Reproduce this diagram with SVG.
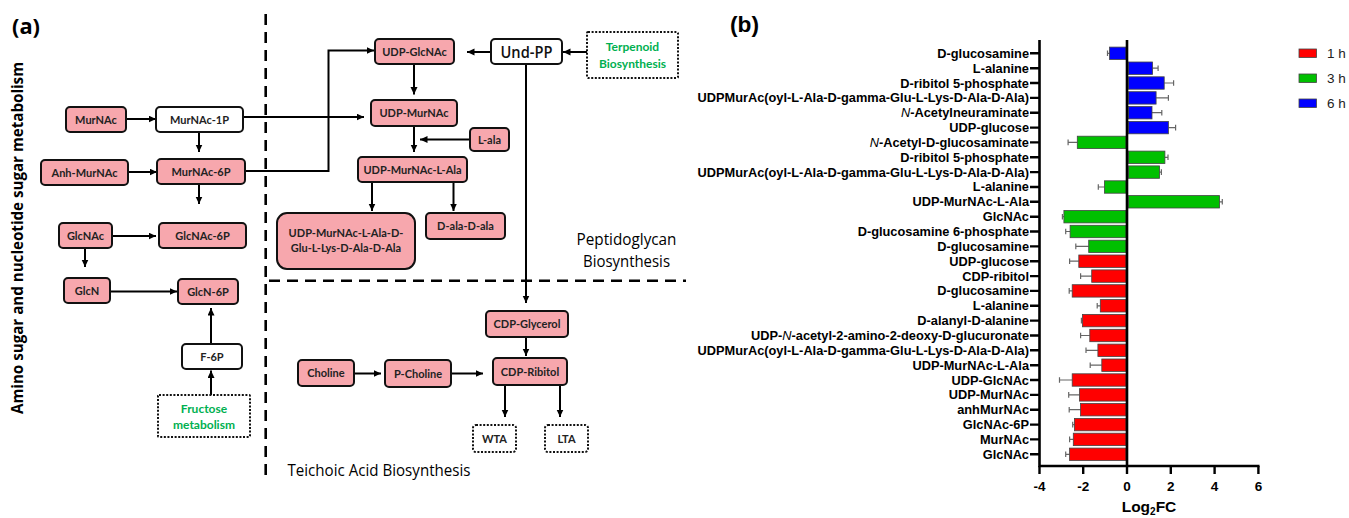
<svg xmlns="http://www.w3.org/2000/svg" width="1349" height="518" viewBox="0 0 1349 518">
<defs>
<marker id="ah" markerUnits="userSpaceOnUse" markerWidth="8" markerHeight="8" refX="7.5" refY="3.5" orient="auto">
<path d="M0,0 L7.5,3.5 L0,7 z" fill="#000"/>
</marker>
<style>
.bg{fill:#fff}
.n rect{fill:#F7A7AD;stroke:#111;stroke-width:2}
.n.w rect{fill:#fff}
.n.d rect{fill:#fff;stroke-dasharray:2 1.6}
.n text{font-family:Lato,"Liberation Sans",sans-serif;font-weight:bold;font-size:11px;fill:#222;text-anchor:middle}
.n .g{fill:#00B050;font-size:12px}
.c path{fill:none;stroke:#000;stroke-width:2}
.c .a{marker-end:url(#ah)}
.sep{fill:none;stroke:#000;stroke-width:2.6;stroke-dasharray:11 7}
.ttl{font-family:"Open Sans",Lato,"Liberation Sans",sans-serif;font-size:17px;font-weight:500;fill:#000}
.pl{font-family:"Open Sans",Lato,"Liberation Sans",sans-serif;font-weight:bold;font-size:22px;fill:#000}
.lb{font-family:"Liberation Sans",Arial,sans-serif;font-weight:bold;font-size:12.8px;fill:#000;text-anchor:end}
.lb .i{font-style:italic;font-weight:normal}
.ax{stroke:#000;stroke-width:2.6;fill:none}
.tk{stroke:#000;stroke-width:2.4}
.r{fill:#FF0000;stroke:#444;stroke-width:0.8}
.gr{fill:#00C000;stroke:#444;stroke-width:0.8}
.b{fill:#0000FF;stroke:#444;stroke-width:0.8}
.e{stroke:#666;stroke-width:1.2;fill:none}
.tl{font-family:"Liberation Sans",Arial,sans-serif;font-weight:bold;font-size:13.5px;fill:#000;text-anchor:middle}
.lg{font-family:"Liberation Sans",Arial,sans-serif;font-size:13.5px;fill:#222}
</style>
</defs>
<rect class="bg" x="0" y="0" width="1349" height="518"/>

<!-- Panel labels and titles -->
<text class="pl" x="12" y="34" textLength="28" lengthAdjust="spacingAndGlyphs">(a)</text>
<text class="pl" x="730" y="32" style="font-family:'Liberation Sans',Arial,sans-serif;font-size:22px" textLength="29" lengthAdjust="spacingAndGlyphs">(b)</text>
<text class="ttl" x="0" y="0" transform="translate(23,238) rotate(-90)" text-anchor="middle" style="font-weight:bold;font-size:16px" textLength="352" lengthAdjust="spacingAndGlyphs">Amino sugar and nucleotide sugar metabolism</text>
<text class="ttl" x="626.5" y="245" text-anchor="middle" textLength="100" lengthAdjust="spacingAndGlyphs">Peptidoglycan</text>
<text class="ttl" x="626.5" y="266.5" text-anchor="middle" textLength="87" lengthAdjust="spacingAndGlyphs">Biosynthesis</text>
<text class="ttl" x="287.5" y="476" textLength="183" lengthAdjust="spacingAndGlyphs">Teichoic Acid Biosynthesis</text>

<!-- Separators -->
<g id="separators">
<path class="sep" d="M265.7,14 V480"/>
<path class="sep" d="M269,280.7 H686"/>
</g>

<!-- Connectors -->
<g id="connectors" class="c">
<path class="a" d="M126,119 H156"/>
<path class="a" d="M199,132 V152"/>
<path class="a" d="M128,172 H157"/>
<path class="a" d="M199,184 V204"/>
<path class="a" d="M112,236 H156"/>
<path class="a" d="M85,248 V267"/>
<path class="a" d="M110,291.5 H177"/>
<path class="a" d="M211,344 V308"/>
<path class="a" d="M211,395 V370.5"/>
<path class="a" d="M243,117 H364"/>
<path class="a" d="M245,171 H328.5 V50.5 H374"/>
<path class="a" d="M491,52 H467"/>
<path class="a" d="M587,52 H563"/>
<path class="a" d="M414,64 V94.5"/>
<path class="a" d="M414,126 V152"/>
<path class="a" d="M470,139.5 H420"/>
<path class="a" d="M372,182 V211"/>
<path class="a" d="M453.5,182 V211"/>
<path class="a" d="M526,64 V303"/>
<path class="a" d="M526,337 V356"/>
<path class="a" d="M354,373.5 H381"/>
<path class="a" d="M451,373.5 H483"/>
<path class="a" d="M505,385 V417"/>
<path class="a" d="M560,385 V417"/>
</g>

<!-- Nodes -->
<g id="MurNAc" class="n"><rect x="66" y="107" width="60" height="25" rx="4"/><text x="96" y="123.5">MurNAc</text></g>
<g id="MurNAc-1P" class="n w"><rect x="156" y="107" width="87" height="25" rx="4"/><text x="199.5" y="123.5">MurNAc-1P</text></g>
<g id="Anh-MurNAc" class="n"><rect x="41" y="160" width="87" height="25" rx="4"/><text x="84.5" y="176.5">Anh-MurNAc</text></g>
<g id="MurNAc-6P" class="n"><rect x="157" y="159" width="88" height="25" rx="4"/><text x="201" y="175.5">MurNAc-6P</text></g>
<g id="GlcNAc" class="n"><rect x="59" y="223" width="53" height="25" rx="4"/><text x="85.5" y="239.5">GlcNAc</text></g>
<g id="GlcNAc-6P" class="n"><rect x="159" y="223" width="87" height="25" rx="4"/><text x="202.5" y="239.5">GlcNAc-6P</text></g>
<g id="GlcN" class="n"><rect x="64" y="278" width="46" height="25" rx="4"/><text x="87" y="294.5">GlcN</text></g>
<g id="GlcN-6P" class="n"><rect x="178" y="279" width="60" height="25" rx="4"/><text x="208" y="295.5">GlcN-6P</text></g>
<g id="F-6P" class="n w"><rect x="182" y="344" width="60" height="25" rx="4"/><text x="212" y="360.5">F-6P</text></g>
<g id="Fructose" class="n d"><rect x="158" y="395" width="92" height="42" rx="1"/><text class="g" x="204" y="412.5">Fructose</text><text class="g" x="204" y="429">metabolism</text></g>
<g id="UDP-GlcNAc" class="n"><rect x="375" y="39" width="79" height="25" rx="4"/><text x="414.5" y="55.5">UDP-GlcNAc</text></g>
<g id="Und-PP" class="n w"><rect x="491" y="39" width="71" height="25" rx="4"/><text x="526.5" y="57.5" style="font-family:'Open Sans',Lato,sans-serif;font-weight:600;font-size:16px;fill:#111" textLength="52" lengthAdjust="spacingAndGlyphs">Und-PP</text></g>
<g id="Terpenoid" class="n d"><rect x="587" y="32" width="91" height="46" rx="1"/><text class="g" x="632.5" y="51">Terpenoid</text><text class="g" x="632.5" y="67.5">Biosynthesis</text></g>
<g id="UDP-MurNAc" class="n"><rect x="371" y="100" width="86" height="26" rx="4"/><text x="414" y="117">UDP-MurNAc</text></g>
<g id="L-ala" class="n"><rect x="470" y="128" width="39" height="23" rx="4"/><text x="489.5" y="143.5">L-ala</text></g>
<g id="UDP-MurNAc-L-Ala" class="n"><rect x="358" y="157" width="109" height="25" rx="4"/><text x="412.5" y="173.5">UDP-MurNAc-L-Ala</text></g>
<g id="UDP-MurNAc-pentapeptide" class="n"><rect x="277" y="213" width="138" height="56" rx="10"/><text x="346" y="237">UDP-MurNAc-L-Ala-D-</text><text x="346" y="252">Glu-L-Lys-D-Ala-D-Ala</text></g>
<g id="D-ala-D-ala" class="n"><rect x="426" y="213" width="79" height="26" rx="4"/><text x="465.5" y="230">D-ala-D-ala</text></g>
<g id="CDP-Glycerol" class="n"><rect x="486" y="311" width="82" height="26" rx="4"/><text x="527" y="328">CDP-Glycerol</text></g>
<g id="CDP-Ribitol" class="n"><rect x="493" y="358" width="74" height="27" rx="4"/><text x="530" y="375.5">CDP-Ribitol</text></g>
<g id="Choline" class="n"><rect x="298" y="360" width="56" height="26" rx="4"/><text x="326" y="377">Choline</text></g>
<g id="P-Choline" class="n"><rect x="385" y="360" width="66" height="27" rx="4"/><text x="418" y="377.5">P-Choline</text></g>
<g id="WTA" class="n d"><rect x="473" y="425" width="43" height="27" rx="3"/><text x="494.5" y="442.5">WTA</text></g>
<g id="LTA" class="n d"><rect x="545" y="425" width="43" height="27" rx="3"/><text x="566.5" y="442.5">LTA</text></g>

<!-- Bar chart (b) -->
<g id="chart">
<g id="labels">
<text class="lb" x="1029" y="57.8">D-glucosamine</text>
<text class="lb" x="1029" y="72.6">L-alanine</text>
<text class="lb" x="1029" y="87.5">D-ribitol 5-phosphate</text>
<text class="lb" x="1029" y="102.3">UDPMurAc(oyl-L-Ala-D-gamma-Glu-L-Lys-D-Ala-D-Ala)</text>
<text class="lb" x="1029" y="117.2"><tspan class="i">N</tspan>-Acetylneuraminate</text>
<text class="lb" x="1029" y="132">UDP-glucose</text>
<text class="lb" x="1029" y="146.9"><tspan class="i">N</tspan>-Acetyl-D-glucosaminate</text>
<text class="lb" x="1029" y="161.7">D-ribitol 5-phosphate</text>
<text class="lb" x="1029" y="176.6">UDPMurAc(oyl-L-Ala-D-gamma-Glu-L-Lys-D-Ala-D-Ala)</text>
<text class="lb" x="1029" y="191.4">L-alanine</text>
<text class="lb" x="1029" y="206.3">UDP-MurNAc-L-Ala</text>
<text class="lb" x="1029" y="221.1">GlcNAc</text>
<text class="lb" x="1029" y="236">D-glucosamine 6-phosphate</text>
<text class="lb" x="1029" y="250.8">D-glucosamine</text>
<text class="lb" x="1029" y="265.7">UDP-glucose</text>
<text class="lb" x="1029" y="280.5">CDP-ribitol</text>
<text class="lb" x="1029" y="295.4">D-glucosamine</text>
<text class="lb" x="1029" y="310.2">L-alanine</text>
<text class="lb" x="1029" y="325.1">D-alanyl-D-alanine</text>
<text class="lb" x="1029" y="339.9">UDP-<tspan class="i">N</tspan>-acetyl-2-amino-2-deoxy-D-glucuronate</text>
<text class="lb" x="1029" y="354.8">UDPMurAc(oyl-L-Ala-D-gamma-Glu-L-Lys-D-Ala-D-Ala)</text>
<text class="lb" x="1029" y="369.6">UDP-MurNAc-L-Ala</text>
<text class="lb" x="1029" y="384.5">UDP-GlcNAc</text>
<text class="lb" x="1029" y="399.3">UDP-MurNAc</text>
<text class="lb" x="1029" y="414.2">anhMurNAc</text>
<text class="lb" x="1029" y="429">GlcNAc-6P</text>
<text class="lb" x="1029" y="443.9">MurNAc</text>
<text class="lb" x="1029" y="458.7">GlcNAc</text>
</g>
<g id="errorbars" class="e">
<path d="M1109.5,53.3 H1107.5 M1107.5,50.5 V56.1"/>
<path d="M1152.6,68.2 H1158.1 M1158.1,65.4 V71"/>
<path d="M1164.2,83 H1173.6 M1173.6,80.2 V85.8"/>
<path d="M1156.1,97.9 H1168.4 M1168.4,95.1 V100.7"/>
<path d="M1152,112.7 H1161.8 M1161.8,109.9 V115.5"/>
<path d="M1168.4,127.6 H1175.6 M1175.6,124.8 V130.4"/>
<path d="M1077.3,142.4 H1068.1 M1068.1,139.6 V145.2"/>
<path d="M1164.9,157.3 H1168 M1168,154.5 V160.1"/>
<path d="M1159.6,172.1 H1161.4 M1161.4,169.3 V174.9"/>
<path d="M1104.4,187 H1098.3 M1098.3,184.2 V189.8"/>
<path d="M1219.6,201.8 H1222.3 M1222.3,199 V204.6"/>
<path d="M1063.9,216.7 H1062.4 M1062.4,213.9 V219.5"/>
<path d="M1070.1,231.5 H1065.7 M1065.7,228.7 V234.3"/>
<path d="M1088.7,246.4 H1075.8 M1075.8,243.6 V249.2"/>
<path d="M1078.8,261.2 H1069.6 M1069.6,258.4 V264"/>
<path d="M1091.7,276.1 H1080.6 M1080.6,273.3 V278.9"/>
<path d="M1072.2,290.9 H1069.2 M1069.2,288.1 V293.7"/>
<path d="M1100.3,305.8 H1097.2 M1097.2,303 V308.6"/>
<path d="M1082.5,320.6 H1081.4 M1081.4,317.8 V323.4"/>
<path d="M1089.8,335.5 H1080.6 M1080.6,332.7 V338.3"/>
<path d="M1097.9,350.3 H1086 M1086,347.5 V353.1"/>
<path d="M1101.8,365.2 H1090.2 M1090.2,362.4 V368"/>
<path d="M1072.2,380 H1059.5 M1059.5,377.2 V382.8"/>
<path d="M1079.5,394.9 H1068.7 M1068.7,392.1 V397.7"/>
<path d="M1080.6,409.7 H1069.2 M1069.2,406.9 V412.5"/>
<path d="M1074.4,424.6 H1072.7 M1072.7,421.8 V427.4"/>
<path d="M1073.3,439.4 H1069.6 M1069.6,436.6 V442.2"/>
<path d="M1069.6,454.3 H1065.7 M1065.7,451.5 V457.1"/>
</g>
<g id="bars">
<rect class="b" x="1109.5" y="47.1" width="16.5" height="12.4"/>
<rect class="b" x="1128.5" y="62" width="24.1" height="12.4"/>
<rect class="b" x="1128.5" y="76.8" width="35.7" height="12.4"/>
<rect class="b" x="1128.5" y="91.7" width="27.6" height="12.4"/>
<rect class="b" x="1128.5" y="106.5" width="23.5" height="12.4"/>
<rect class="b" x="1128.5" y="121.4" width="39.9" height="12.4"/>
<rect class="gr" x="1077.3" y="136.2" width="48.7" height="12.4"/>
<rect class="gr" x="1128.5" y="151.1" width="36.4" height="12.4"/>
<rect class="gr" x="1128.5" y="165.9" width="31.1" height="12.4"/>
<rect class="gr" x="1104.4" y="180.8" width="21.6" height="12.4"/>
<rect class="gr" x="1128.5" y="195.6" width="91.1" height="12.4"/>
<rect class="gr" x="1063.9" y="210.5" width="62.1" height="12.4"/>
<rect class="gr" x="1070.1" y="225.3" width="55.9" height="12.4"/>
<rect class="gr" x="1088.7" y="240.2" width="37.3" height="12.4"/>
<rect class="r" x="1078.8" y="255" width="47.2" height="12.4"/>
<rect class="r" x="1091.7" y="269.9" width="34.3" height="12.4"/>
<rect class="r" x="1072.2" y="284.7" width="53.8" height="12.4"/>
<rect class="r" x="1100.3" y="299.6" width="25.7" height="12.4"/>
<rect class="r" x="1082.5" y="314.4" width="43.5" height="12.4"/>
<rect class="r" x="1089.8" y="329.3" width="36.2" height="12.4"/>
<rect class="r" x="1097.9" y="344.1" width="28.1" height="12.4"/>
<rect class="r" x="1101.8" y="359" width="24.2" height="12.4"/>
<rect class="r" x="1072.2" y="373.8" width="53.8" height="12.4"/>
<rect class="r" x="1079.5" y="388.7" width="46.5" height="12.4"/>
<rect class="r" x="1080.6" y="403.5" width="45.4" height="12.4"/>
<rect class="r" x="1074.4" y="418.4" width="51.6" height="12.4"/>
<rect class="r" x="1073.3" y="433.2" width="52.7" height="12.4"/>
<rect class="r" x="1069.6" y="448.1" width="56.4" height="12.4"/>
</g>
<g id="axes">
<path class="ax" d="M1039.5,40 V467.3 M1038.2,466 H1259.5"/>
<path class="ax" d="M1127,40 V466"/>
<path class="tk" d="M1030,53.3 H1039 M1030,68.2 H1039 M1030,83 H1039 M1030,97.9 H1039 M1030,112.7 H1039 M1030,127.6 H1039 M1030,142.4 H1039 M1030,157.3 H1039 M1030,172.1 H1039 M1030,187 H1039 M1030,201.8 H1039 M1030,216.7 H1039 M1030,231.5 H1039 M1030,246.4 H1039 M1030,261.2 H1039 M1030,276.1 H1039 M1030,290.9 H1039 M1030,305.8 H1039 M1030,320.6 H1039 M1030,335.5 H1039 M1030,350.3 H1039 M1030,365.2 H1039 M1030,380 H1039 M1030,394.9 H1039 M1030,409.7 H1039 M1030,424.6 H1039 M1030,439.4 H1039 M1030,454.3 H1039"/>
<path class="tk" d="M1039.5,466 V474 M1083.2,466 V474 M1127,466 V474 M1170.8,466 V474 M1214.6,466 V474 M1258.4,466 V474"/>
<text class="tl" x="1039.5" y="490.5">-4</text>
<text class="tl" x="1083.2" y="490.5">-2</text>
<text class="tl" x="1127" y="490.5">0</text>
<text class="tl" x="1170.8" y="490.5">2</text>
<text class="tl" x="1214.6" y="490.5">4</text>
<text class="tl" x="1258.4" y="490.5">6</text>
<text class="tl" x="1149" y="512" style="font-size:15.5px">Log<tspan style="font-size:10px" dy="3">2</tspan><tspan dy="-3">FC</tspan></text>
</g>
<g id="legend">
<rect class="r" x="1299" y="49" width="17.5" height="8.5"/>
<text class="lg" x="1327" y="58">1 h</text>
<rect class="gr" x="1299" y="74" width="17.5" height="8.5"/>
<text class="lg" x="1327" y="83">3 h</text>
<rect class="b" x="1299" y="99" width="17.5" height="8.5"/>
<text class="lg" x="1327" y="108">6 h</text>
</g>
</g>
</svg>
